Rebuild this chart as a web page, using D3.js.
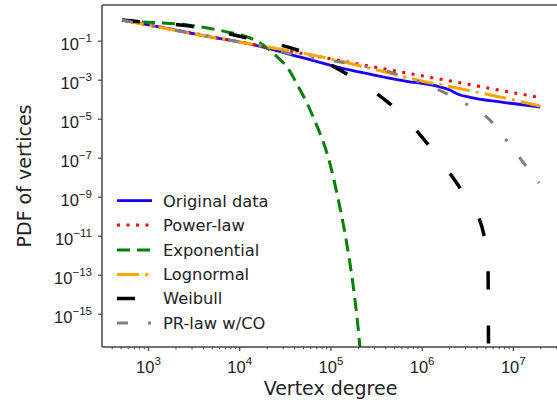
<!DOCTYPE html>
<html>
<head>
<meta charset="utf-8">
<script src="https://cdn.jsdelivr.net/npm/d3@7"></script>
<style>
  html, body { margin: 0; padding: 0; background: #fff; }
  svg { display: block; font-family: "DejaVu Sans", sans-serif; }
</style>
</head>
<body>
<svg id="chart" width="557" height="404"></svg>
<script>
// ---- data ----
const seriesNames = ["Original data", "Power-law", "Exponential", "Lognormal", "Weibull", "PR-law w/CO"];

const degreeOriginal = [519, 1047, 3715, 13180, 46770, 162200, 575400, 2.04e6, 2.51e6, 3.39e6, 7.24e6, 2.0e7];
const pdfOriginal    = [1.15, 0.638, 0.195, 0.0676, 0.01445, 3.16e-3, 9.55e-4, 2.95e-4, 1.8e-4, 1.25e-4, 7.24e-5, 3.98e-5];

const degreePower = [519, 71300, 1.84e7];
const pdfPower    = [1.15, 0.0158, 1.29e-4];

const degreeExpo = [519, 880, 1450, 2700, 4470, 7400, 12300, 17000, 23400, 36300, 42700, 64600, 100000, 117500, 151000, 178000, 204000, 215000];
const pdfExpo    = [1.15, 0.912, 0.813, 0.646, 0.447, 0.282, 0.155, 0.0759, 0.0234, 2.5e-3, 6.3e-4, 1.26e-5, 4.0e-8, 1.6e-9, 4.0e-12, 2.5e-14, 1.0e-16, 6.3e-18];

const degreeLogn = [519, 3715, 13180, 91800, 324600, 891000, 2.44e6, 7.24e6, 1.99e7];
const pdfLogn    = [1.15, 0.195, 0.0676, 0.01297, 3.14e-3, 9.66e-4, 3.75e-4, 1.30e-4, 4.48e-5];

const degreeWeib = [519, 880, 2880, 12200, 50100, 177000, 580000, 1.51e6, 3.15e6, 4.05e6, 4.83e6, 5.21e6, 5.35e6, 5.41e6];
const pdfWeib    = [1.15, 0.912, 0.562, 0.138, 0.0263, 1.23e-3, 1.95e-5, 1.07e-7, 8.5e-10, 1.45e-10, 1.07e-11, 1.82e-12, 1.74e-13, 1.26e-17];

const degreePRCO = [519, 3715, 13180, 46400, 127400, 485000, 1.72e6, 3.23e6, 5.62e6, 8.63e6, 1.29e7, 1.94e7];
const pdfPRCO    = [1.15, 0.195, 0.0676, 0.0164, 8.09e-3, 2.21e-3, 2.34e-4, 5.0e-5, 8.5e-6, 7.2e-7, 6.0e-8, 5.0e-9];

const xTickExps = [3, 4, 5, 6, 7];
const yTickExps = [-15, -13, -11, -9, -7, -5, -3, -1];
const xLabel = "Vertex degree";
const yLabel = "PDF of vertices";

// ---- styles ----
const styles = [
  { color: "#1a00ff", width: 2.8, dash: null },
  { color: "#ff0000", width: 3,   dash: "3,6.5" },
  { color: "#008000", width: 3,   dash: "13,7" },
  { color: "#ffa500", width: 3,   dash: "22,6,3,6" },
  { color: "#000000", width: 3.5, dash: "18,36" },
  { color: "#808080", width: 3,   dash: "11,20,3,20" }
];

const series = [
  [degreeOriginal, pdfOriginal],
  [degreePower, pdfPower],
  [degreeExpo, pdfExpo],
  [degreeLogn, pdfLogn],
  [degreeWeib, pdfWeib],
  [degreePRCO, pdfPRCO]
].map(([d, p]) => d.map((v, i) => ({ x: v, y: p[i] })));

// ---- layout ----
const L = 102, R = 565, T = 5, B = 347;
const svg = d3.select("#chart");

const x = d3.scaleLog().domain([Math.pow(10, 2.4956), Math.pow(10, 7.572)]).range([L, R]);
const y = d3.scaleLog().domain([Math.pow(10, -16.708), Math.pow(10, 0.831)]).range([B, T]);

svg.append("defs").append("clipPath").attr("id", "clip")
  .append("rect").attr("x", L).attr("y", T).attr("width", R - L).attr("height", B - T);

const line = d3.line().x(d => x(d.x)).y(d => y(d.y)).curve(d3.curveMonotoneX);

const plot = svg.append("g").attr("clip-path", "url(#clip)");
series.forEach((s, i) => {
  const st = styles[i];
  plot.append("path")
    .datum(s)
    .attr("d", line)
    .attr("fill", "none")
    .attr("stroke", st.color)
    .attr("stroke-width", st.width)
    .attr("stroke-dasharray", st.dash)
    .attr("stroke-linejoin", "round");
});

// ---- axes ----
const axisColor = "#444";
const fontSize = 16.5;

// x minor ticks
const xMinor = [];
for (let e = 2; e <= 7; e++) for (let m = 2; m <= 9; m++) {
  const v = m * Math.pow(10, e);
  if (v > x.domain()[0] && v < x.domain()[1]) xMinor.push(v);
}
const gxMinor = svg.append("g").attr("transform", `translate(0,${B})`)
  .call(d3.axisBottom(x).tickValues(xMinor).tickSize(2.2).tickFormat(""));
gxMinor.select(".domain").remove();
gxMinor.selectAll("line").attr("stroke", axisColor).attr("stroke-width", 1);

const gx = svg.append("g").attr("transform", `translate(0,${B})`)
  .call(d3.axisBottom(x).tickValues(xTickExps.map(e => Math.pow(10, e))).tickSize(4).tickFormat(""));
gx.select(".domain").remove();
gx.selectAll("line").attr("stroke", axisColor).attr("stroke-width", 1.2);
gx.selectAll(".tick").each(function(d, i) {
  const t = d3.select(this).append("text")
    .attr("y", 26).attr("fill", "#222").attr("text-anchor", "middle")
    .attr("font-size", fontSize);
  t.append("tspan").text("10");
  t.append("tspan").attr("dy", -8.5).attr("font-size", fontSize * 0.7).text(String(xTickExps[i]).replace("-", "\u2212"));
});

const gy = svg.append("g").attr("transform", `translate(${L},0)`)
  .call(d3.axisLeft(y).tickValues(yTickExps.map(e => Math.pow(10, e))).tickSize(4).tickFormat(""));
gy.select(".domain").remove();
gy.selectAll("line").attr("stroke", axisColor).attr("stroke-width", 1.2);
gy.selectAll(".tick").each(function(d, i) {
  const t = d3.select(this).append("text")
    .attr("x", -10).attr("y", 9).attr("fill", "#222").attr("text-anchor", "end")
    .attr("font-size", fontSize);
  t.append("tspan").text("10");
  t.append("tspan").attr("dy", -8).attr("font-size", fontSize * 0.7).text(String(yTickExps[i]).replace("-", "\u2212"));
});

// spines
svg.append("line").attr("x1", L).attr("x2", L).attr("y1", T).attr("y2", B)
  .attr("stroke", axisColor).attr("stroke-width", 1.5);
svg.append("line").attr("x1", L).attr("x2", 557).attr("y1", B).attr("y2", B)
  .attr("stroke", axisColor).attr("stroke-width", 1.5);
svg.append("line").attr("x1", L).attr("x2", 557).attr("y1", T).attr("y2", T)
  .attr("stroke", "#777").attr("stroke-width", 1.8);

// axis labels
svg.append("text").attr("x", 330.5).attr("y", 395).attr("text-anchor", "middle")
  .attr("font-size", 19).attr("fill", "#222").text(xLabel);
svg.append("text").attr("transform", "translate(31,176) rotate(-90)").attr("text-anchor", "middle")
  .attr("font-size", 19).attr("fill", "#222").text(yLabel);

// ---- legend ----
const legend = svg.append("g");
const rowY = [200.7, 225, 250, 274.5, 298.5, 323];
seriesNames.forEach((name, i) => {
  const st = styles[i];
  legend.append("line").attr("x1", 117).attr("x2", 152).attr("y1", rowY[i]).attr("y2", rowY[i])
    .attr("stroke", st.color).attr("stroke-width", st.width).attr("stroke-dasharray", st.dash);
  legend.append("text").attr("x", 163).attr("y", rowY[i]).attr("dy", "0.36em")
    .attr("font-size", 16.3).attr("fill", "#222").text(name);
});
</script>
</body>
</html>
